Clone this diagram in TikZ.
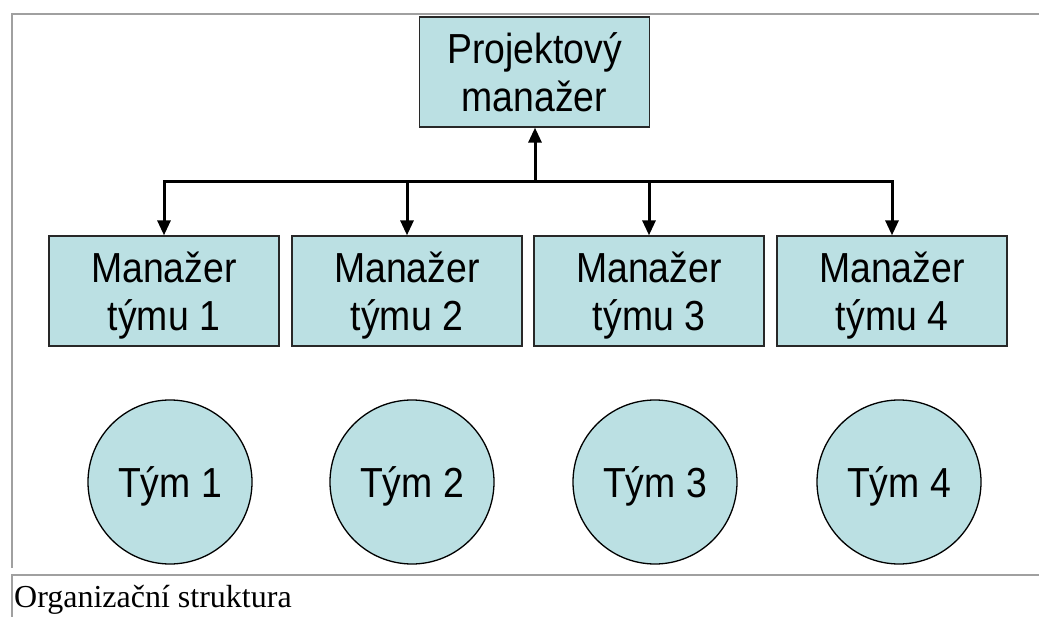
\documentclass[tikz,border=0pt]{standalone}
\usepackage{fontspec}
\setmainfont{Liberation Serif}
\newfontfamily\arialn[FakeStretch=0.89]{Liberation Sans}
\usetikzlibrary{arrows.meta}
\definecolor{boxfill}{RGB}{187,224,227}
\definecolor{framegray}{RGB}{160,160,160}
\definecolor{boxline}{RGB}{40,40,40}

\begin{document}
\begin{tikzpicture}[x=1pt,y=-1pt,
  orgbox/.style={draw=boxline, line width=1.3pt, fill=boxfill,
    minimum width=230pt, minimum height=110pt, inner sep=0pt,
    align=center, text depth=0pt,
    font=\arialn\fontsize{42}{48}\selectfont},
  team/.style={circle, draw=black, line width=1.3pt, fill=boxfill,
    minimum size=164pt, inner sep=0pt, text depth=0pt,
    font=\arialn\fontsize{42}{48}\selectfont},
  link/.style={line width=3pt, -{Triangle[width=13pt,length=15pt]}},
  cellrule/.style={draw=framegray, line width=2pt}]

\useasboundingbox (0,0) rectangle (1039,617);

% table cell rules
\draw[cellrule] (11,14) -- (1039,14);
\draw[cellrule] (12,13) -- (12,568);
\draw[cellrule] (11,575) -- (1039,575);
\draw[cellrule] (12,574) -- (12,617);

% project manager
\node[orgbox] (pm) at (534.5,72) {Projektový\\manažer};

% team managers
\node[orgbox] (m1) at (164,291) {Manažer\\týmu 1};
\node[orgbox] (m2) at (407,291) {Manažer\\týmu 2};
\node[orgbox] (m3) at (649,291) {Manažer\\týmu 3};
\node[orgbox] (m4) at (892,291) {Manažer\\týmu 4};

% teams
\node[team] (t1) at (170,482) {Tým 1};
\node[team] (t2) at (412,482) {Tým 2};
\node[team] (t3) at (655,482) {Tým 3};
\node[team] (t4) at (899,482) {Tým 4};

% connectors
\coordinate (J) at (535,182);
\draw[link] (J) -- (J |- pm.south);
\foreach \m in {m1,m2,m3,m4}
  \draw[link] (J) -| (\m.north);

% caption
\node[anchor=base west, inner sep=0pt, font=\fontsize{32}{38}\selectfont]
  (caption) at (14,607) {Organizační struktura};
\end{tikzpicture}
\end{document}
